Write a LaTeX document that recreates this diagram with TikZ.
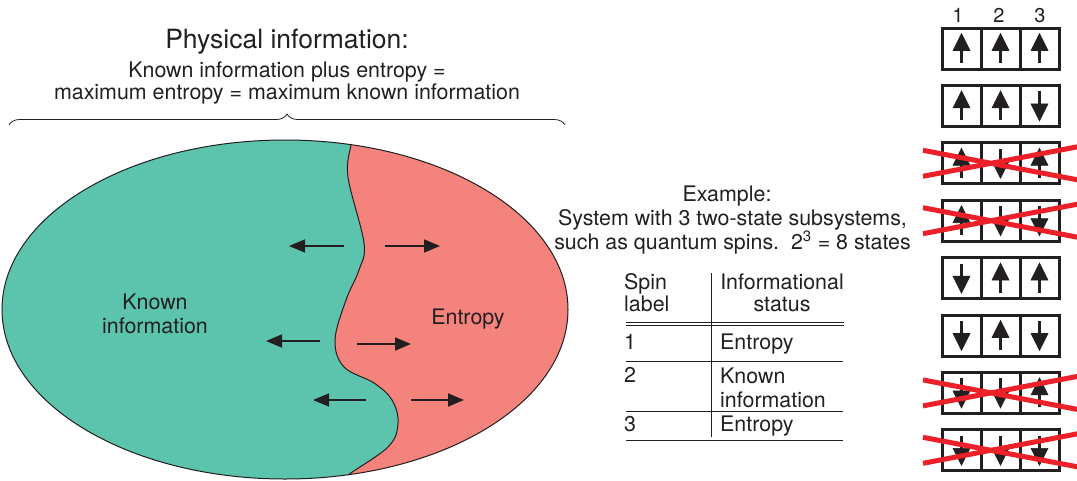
\documentclass[tikz,border=0pt]{standalone}
\usepackage{fontspec}
\setmainfont{TeX Gyre Heros}
\usetikzlibrary{decorations.pathreplacing,arrows.meta}
\definecolor{tealfill}{RGB}{92,196,173}
\definecolor{salmonfill}{RGB}{244,131,126}
\definecolor{crossred}{RGB}{236,32,40}
\definecolor{ink}{RGB}{35,31,32}
\begin{document}
\begin{tikzpicture}[x=1pt,y=-1pt,
  txt/.style={font=\fontsize{21.4}{24}\selectfont, inner sep=0pt, anchor=base, text=ink},
  flowarrow/.style={draw=ink, line width=1.6pt, -{Triangle[length=16pt,width=13pt]}},
  spinbox/.style={draw=ink, line width=3pt},
  crossline/.style={draw=crossred, line width=5pt},
  rule/.style={draw=ink, line width=0.9pt},
  spinup/.pic={\draw[ink, line width=3.4pt] (0,14.5) -- (0,0);
               \filldraw[ink, line width=0.6pt] (-8.5,2) -- (8.5,2) -- (0,-15) -- cycle;},
  spindn/.pic={\draw[ink, line width=3.4pt] (0,-14.5) -- (0,0);
               \filldraw[ink, line width=0.6pt] (-8.5,-2) -- (8.5,-2) -- (0,15) -- cycle;}
]
\clip (0,0) rectangle (1077,480);
\useasboundingbox (0,0) rectangle (1077,480);

% headings
\node[txt, font=\fontsize{26.5}{30}\selectfont] (title) at (287,48) {Physical information:};
\node[txt] (l1) at (287,77) {Known information plus entropy =};
\node[txt] (l2) at (287,99) {maximum entropy = maximum known information};
\draw[ink, line width=0.8pt, decorate, decoration={brace, amplitude=11pt}] (9,125) -- (565,125);

% ellipse regions
\begin{scope}
  \clip (285,309.5) ellipse [x radius=283pt, y radius=169.5pt];
  \fill[tealfill] (0,130) rectangle (600,480);
  \fill[salmonfill] plot[smooth, tension=0.6] coordinates {(352,130) (351,144) (348,177) (364,243) (359,270) (346,300) (335,340) (344,367) (374,383) (392,400) (398,423) (388,447) (344,478) (330,495)} -- (600,495) -- (600,130) -- cycle;
  \draw[ink, line width=1pt] plot[smooth, tension=0.6] coordinates {(352,130) (351,144) (348,177) (364,243) (359,270) (346,300) (335,340) (344,367) (374,383) (392,400) (398,423) (388,447) (344,478) (330,495)};
\end{scope}
\draw[ink, line width=1pt] (285,309.5) ellipse [x radius=283pt, y radius=169.5pt];

\node[txt] (known1) at (155,309) {Known};
\node[txt] (known2) at (155,333) {information};
\node[txt] (entropy) at (468,324) {Entropy};

\coordinate (a1s) at (344,246); \coordinate (a1e) at (289,246);
\coordinate (a2s) at (385,246); \coordinate (a2e) at (440,246);
\coordinate (a3s) at (320,341); \coordinate (a3e) at (266,341);
\coordinate (a4s) at (357,344); \coordinate (a4e) at (411,344);
\coordinate (a5s) at (366,400); \coordinate (a5e) at (313,400);
\coordinate (a6s) at (411,400); \coordinate (a6e) at (464,400);
\draw[flowarrow] (a1s) -- (a1e);
\draw[flowarrow] (a2s) -- (a2e);
\draw[flowarrow] (a3s) -- (a3e);
\draw[flowarrow] (a4s) -- (a4e);
\draw[flowarrow] (a5s) -- (a5e);
\draw[flowarrow] (a6s) -- (a6e);

% example text
\node[txt] (ex1) at (727,201) {Example:};
\node[txt] (ex2) at (732.5,225) {System with 3 two-state subsystems,};
\node[txt] (ex3) at (732.5,249) {such as quantum spins.\ \ 2\textsuperscript{3} = 8 states};

% table
\node[txt, anchor=base west] (h1) at (624,289) {Spin};
\node[txt, anchor=base west] (h2) at (624,311) {label};
\node[txt] (h3) at (782,289) {Informational};
\node[txt] (h4) at (782,311) {status};
\node[txt, anchor=base west] (r1a) at (624,349) {1};
\node[txt, anchor=base west] (r1b) at (720,349) {Entropy};
\node[txt, anchor=base west] (r2a) at (624,382) {2};
\node[txt, anchor=base west] (r2b) at (720,383) {Known};
\node[txt, anchor=base west] (r2c) at (720,407) {information};
\node[txt, anchor=base west] (r3a) at (624,431) {3};
\node[txt, anchor=base west] (r3b) at (720,431) {Entropy};
\draw[rule] (711,273) -- (711,437);
\draw[rule] (626,322) -- (844,322);
\draw[rule] (626,325.5) -- (844,325.5);
\draw[rule] (626,361) -- (843,361);
\draw[rule] (626,411) -- (843,411);
\draw[rule] (626,440) -- (843,440);

% spin states
\node[txt, font=\fontsize{20}{24}\selectfont] (c1) at (958,22) {1};
\node[txt, font=\fontsize{20}{24}\selectfont] (c2) at (999,22) {2};
\node[txt, font=\fontsize{20}{24}\selectfont] (c3) at (1040,22) {3};
\foreach \r/\a/\b/\c/\x in {0/up/up/up/0,1/up/up/dn/0,2/up/dn/up/1,3/up/dn/dn/1,4/dn/up/up/0,5/dn/up/dn/0,6/dn/dn/up/1,7/dn/dn/dn/1}{
  \pgfmathsetmacro\T{28+57.4*\r}
  \pgfmathsetmacro\C{\T+20.5}
  \pgfmathsetmacro\B{\T+41}
  \draw[spinbox] (942,\T) rectangle (1059,\B);
  \draw[spinbox] (981,\T) -- (981,\B);
  \draw[spinbox] (1020,\T) -- (1020,\B);
  \pic at (961.5,\C) {spin\a};
  \pic at (1000.5,\C) {spin\b};
  \pic at (1039.5,\C) {spin\c};
  \ifnum\x=1
    \draw[crossline] (923,\C-13) -- (1080,\C+17);
    \draw[crossline] (923,\C+13) -- (1080,\C-17);
  \fi
}
\end{tikzpicture}
\end{document}
